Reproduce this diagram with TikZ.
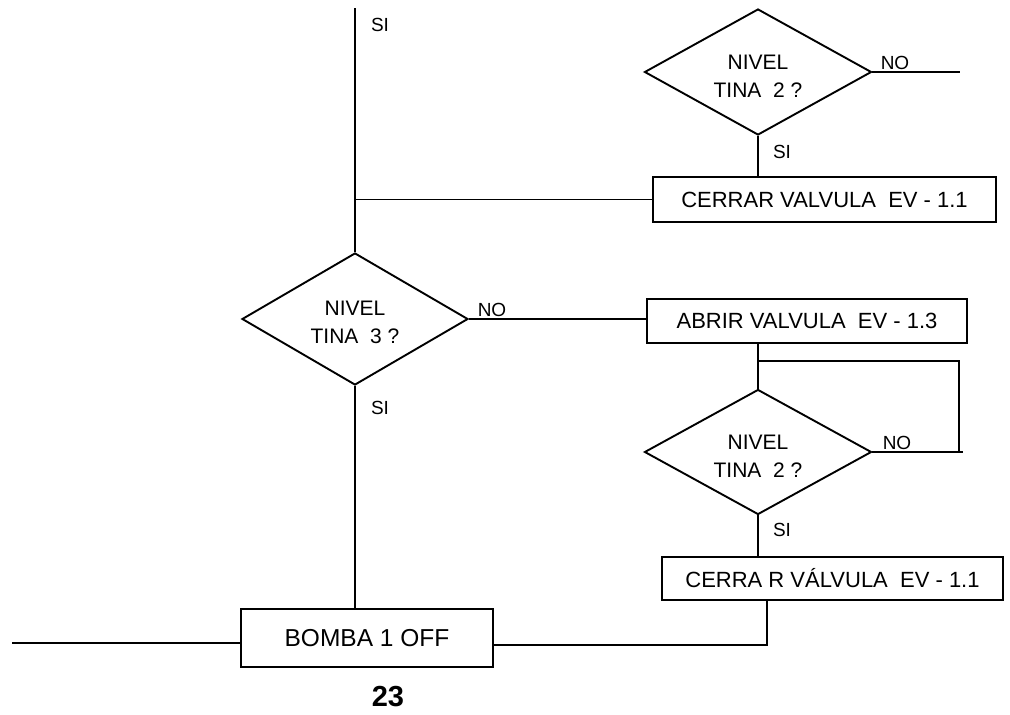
\documentclass[tikz,border=0pt]{standalone}
\usepackage{fontspec}
\setmainfont{Liberation Sans}
\usetikzlibrary{shapes.geometric}
\begin{document}
\begin{tikzpicture}[x=1pt,y=-1pt,line width=1.9pt,
  proc/.style={draw,rectangle,inner sep=0pt,font=\fontsize{22}{26}\selectfont},
  decision/.style={draw,diamond,inner sep=0pt},
  dtext/.style={inner sep=0pt,align=center,font=\fontsize{21}{28}\selectfont},
  tag/.style={inner sep=0pt,font=\fontsize{19}{22}\selectfont}]
\useasboundingbox (0,0) rectangle (1010,715);

% decisions
\node[decision,minimum width=227pt,minimum height=126pt] (d1) at (758,72) {};
\node[decision,minimum width=226pt,minimum height=132pt] (d3) at (355,319) {};
\node[decision,minimum width=227pt,minimum height=125pt] (d2) at (758,452) {};
\node[dtext] (d1t) at ([yshift=-4pt]d1.center) {NIVEL\\TINA\ \ 2 ?};
\node[dtext] (d3t) at ([yshift=-3pt]d3.center) {NIVEL\\TINA\ \ 3 ?};
\node[dtext] (d2t) at ([yshift=-4pt]d2.center) {NIVEL\\TINA\ \ 2 ?};

% actions
\node[proc,minimum width=343pt,minimum height=45pt] (b1) at (824.5,199.5) {CERRAR VALVULA\ \ EV - 1.1};
\node[proc,minimum width=320pt,minimum height=44pt] (b2) at (807,321) {ABRIR VALVULA\ \ EV - 1.3};
\node[proc,minimum width=341pt,minimum height=43pt] (b3) at (832.5,578.5) {CERRA R VÁLVULA\ \ EV - 1.1};
\node[proc,minimum width=252pt,minimum height=58pt,font=\fontsize{24.5}{28}\selectfont] (b4) at (367,638) {BOMBA 1 OFF};

% free ends and bends
\coordinate (top) at (355,8);
\coordinate (n1) at (960,72);
\coordinate (loopR) at (959,361);
\coordinate (n2) at (963,452);
\coordinate (c1) at (767,645);
\coordinate (c0) at (12,643);

% connectors
\draw (top) -- (d3.north);
\draw (b1.west) -- (top |- b1.west);
\draw (d1.south) -- (d1.south |- b1.north);
\draw (d1.east) -- (n1);
\draw (d3.east) -- (d3.east -| b2.west);
\draw (d3.south) -- (d3.south |- b4.north);
\draw (d2.north |- b2.south) -- (d2.north);
\draw (d2.north |- loopR) -- (loopR) -- (loopR |- d2.east);
\draw (d2.east) -- (n2);
\draw (d2.south) -- (d2.south |- b3.north);
\draw (c1 |- b3.south) -- (c1) -- (c1 -| b4.east);
\draw (c0) -- (c0 -| b4.west);

% branch labels
\node[tag] (siTop) at (380,25) {SI};
\node[tag] (no1) at (895,63) {NO};
\node[tag] (si1) at (782,152) {SI};
\node[tag] (no3) at (492,310) {NO};
\node[tag] (si3) at (380,408) {SI};
\node[tag] (no2) at (897,443) {NO};
\node[tag] (si2) at (782,530) {SI};

% page number
\node[inner sep=0pt,font=\fontsize{29}{32}\selectfont\bfseries] (page) at (388,697) {23};
\end{tikzpicture}
\end{document}
